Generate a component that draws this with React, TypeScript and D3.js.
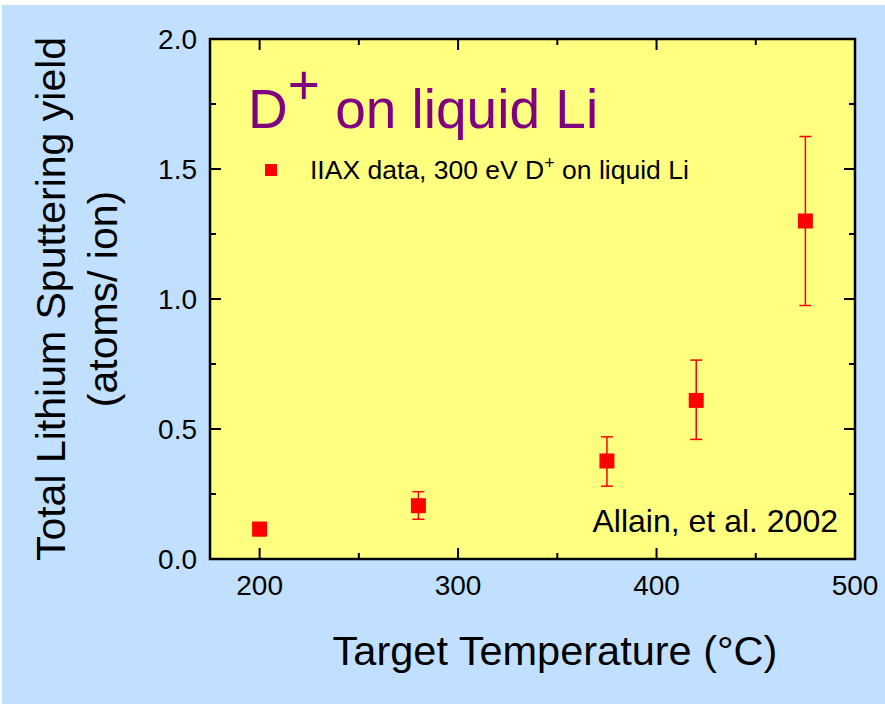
import React from "react";
import * as d3 from "d3";

const temps = [200, 280, 375, 420, 475];
const yields = [0.115, 0.205, 0.377, 0.61, 1.3];
const errLow = [0.09, 0.153, 0.28, 0.46, 0.975];
const errHigh = [0.14, 0.259, 0.47, 0.765, 1.625];
const xTicks = [200, 300, 400, 500];
const xMinor = [250, 350, 450];
const yTicks = [0, 0.5, 1.0, 1.5, 2.0];
const yMinor = [0.25, 0.75, 1.25, 1.75];

const W = 885;
const H = 704;
const L = 210, R = 855, T = 39, B = 559;

export default function App() {
  const x = d3.scaleLinear().domain([175, 500]).range([L, R]);
  const y = d3.scaleLinear().domain([0, 2]).range([B, T]);
  const font = "Liberation Sans, Arial, sans-serif";
  const major = 11, minor = 6;
  return (
    <svg width={W} height={H} style={{ position: "absolute", left: 0, top: 0 }} fontFamily={font}>
      <rect x={0} y={0} width={W} height={H} fill="#ffffff" />
      <rect x={2} y={5} width={W - 2} height={H - 5} fill="#C1E0FF" />
      <rect x={L} y={T} width={R - L} height={B - T} fill="#FFFF80" />
      {xTicks.map((t) => (
        <g key={"xt" + t}>
          <line x1={x(t)} x2={x(t)} y1={B} y2={B - major} stroke="#000" strokeWidth={2} />
          <line x1={x(t)} x2={x(t)} y1={T} y2={T + major} stroke="#000" strokeWidth={2} />
          <text x={x(t)} y={595} fontSize={28} textAnchor="middle" fill="#000">{t}</text>
        </g>
      ))}
      {xMinor.map((t) => (
        <g key={"xm" + t}>
          <line x1={x(t)} x2={x(t)} y1={B} y2={B - minor} stroke="#000" strokeWidth={2} />
          <line x1={x(t)} x2={x(t)} y1={T} y2={T + minor} stroke="#000" strokeWidth={2} />
        </g>
      ))}
      {yTicks.map((t) => (
        <g key={"yt" + t}>
          <line x1={L} x2={L + major} y1={y(t)} y2={y(t)} stroke="#000" strokeWidth={2} />
          <line x1={R} x2={R - major} y1={y(t)} y2={y(t)} stroke="#000" strokeWidth={2} />
          <text x={197} y={y(t) + 10} fontSize={28} textAnchor="end" fill="#000">{t.toFixed(1)}</text>
        </g>
      ))}
      {yMinor.map((t) => (
        <g key={"ym" + t}>
          <line x1={L} x2={L + minor} y1={y(t)} y2={y(t)} stroke="#000" strokeWidth={2} />
          <line x1={R} x2={R - minor} y1={y(t)} y2={y(t)} stroke="#000" strokeWidth={2} />
        </g>
      ))}
      <rect x={L} y={T} width={R - L} height={B - T} fill="none" stroke="#000" strokeWidth={2.5} />
      {temps.map((t, i) => (
        <g key={"d" + i}>
          <line x1={x(t)} x2={x(t)} y1={y(errLow[i])} y2={y(errHigh[i])} stroke="#ff0000" strokeWidth={1.5} />
          <line x1={x(t) - 6} x2={x(t) + 6} y1={y(errLow[i])} y2={y(errLow[i])} stroke="#ff0000" strokeWidth={1.5} />
          <line x1={x(t) - 6} x2={x(t) + 6} y1={y(errHigh[i])} y2={y(errHigh[i])} stroke="#ff0000" strokeWidth={1.5} />
          <rect x={x(t) - 7.5} y={y(yields[i]) - 7.5} width={15} height={15} fill="#ff0000" />
        </g>
      ))}
      <text x={248} y={128} fontSize={55} fill="#800080">
        D<tspan dy={-24}>+</tspan><tspan dy={24}> on liquid Li</tspan>
      </text>
      <rect x={265} y={164} width={12} height={12} fill="#ff0000" />
      <text x={310} y={179} fontSize={26.5} fill="#000">
        IIAX data, 300 eV D<tspan dy={-10} fontSize={18}>+</tspan><tspan dy={10}> on liquid Li</tspan>
      </text>
      <text x={838} y={532} fontSize={32} textAnchor="end" fill="#000">Allain, et al. 2002</text>
      <text x={555} y={665} fontSize={41.5} textAnchor="middle" fill="#000">Target Temperature (°C)</text>
      <text transform={`translate(65,${(T + B) / 2}) rotate(-90)`} fontSize={41} textAnchor="middle" fill="#000">
        Total Lithium Sputtering yield
      </text>
      <text transform={`translate(117,${(T + B) / 2}) rotate(-90)`} fontSize={41} textAnchor="middle" fill="#000">
        (atoms/ ion)
      </text>
    </svg>
  );
}
